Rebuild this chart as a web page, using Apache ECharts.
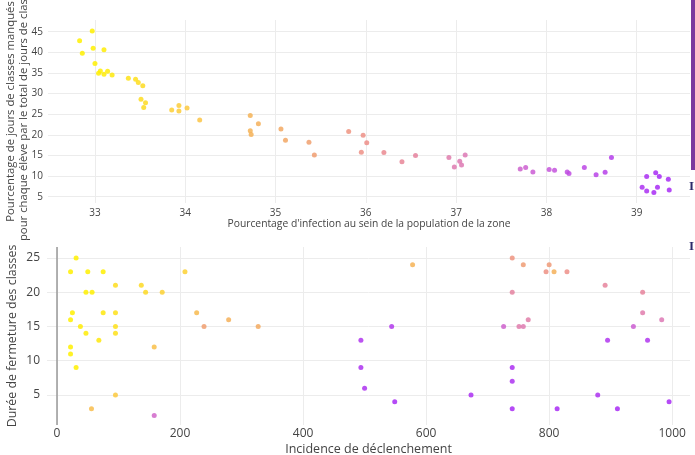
<!DOCTYPE html>
<html>
<head>
<meta charset="utf-8">
<script src="https://cdn.jsdelivr.net/npm/echarts@6/dist/echarts.min.js"></script>
<style>
  html, body { margin: 0; padding: 0; background: #fff; }
  #chart { width: 695px; height: 455px; }
</style>
</head>
<body>
<div id="chart"></div>
<script>
// top: infection % vs missed-days %
const infectionPct = [
  32.83, 32.97, 32.86, 32.98, 33.10, 33.00, 33.06, 33.04, 33.10, 33.14, 33.19,
  33.37, 33.45, 33.48, 33.53, 33.51, 33.56, 33.54, 33.85, 33.93, 33.93, 34.02,
  34.16, 34.72, 34.72, 34.73, 34.81, 35.06, 35.11, 35.37, 35.43, 35.81, 35.97,
  36.01, 35.95, 36.20, 36.40, 36.55, 36.92, 37.04, 37.10, 37.06, 36.98, 37.71,
  37.77, 37.85, 38.03, 38.09, 38.23, 38.25, 38.42, 38.55, 38.65, 38.72, 39.06,
  39.11, 39.11, 39.19, 39.21, 39.25, 39.23, 39.35, 39.36
]
const missedPct = [
  42.8, 45.2, 39.8, 41.0, 40.6, 37.3, 35.5, 34.9, 34.7, 35.4, 34.5,
  33.7, 33.5, 32.7, 31.9, 28.6, 27.8, 26.6, 26.0, 27.1, 25.8, 26.5,
  23.6, 24.7, 21.0, 20.1, 22.7, 21.4, 18.7, 18.2, 15.1, 20.8, 19.9,
  18.1, 15.8, 15.7, 13.5, 15.0, 14.5, 13.6, 15.1, 12.7, 12.2, 11.7,
  12.1, 11.0, 11.6, 11.4, 11.0, 10.6, 12.1, 10.3, 10.9, 14.5, 7.3,
  9.9, 6.4, 6.0, 10.8, 9.9, 7.3, 9.2, 6.6
]

// bottom: trigger incidence vs closure duration (colour = infection %)
const incidence = [
  31, 22, 50, 75, 208, 95, 137, 47, 57, 144, 171,
  25, 75, 95, 227, 22, 279, 38, 95, 239, 327,
  47, 95, 68, 22, 158, 22, 31, 95, 56, 158,
  578, 740, 758, 800, 795, 808, 829, 891, 740, 952,
  952, 766, 983, 544, 726, 751, 758, 937, 494, 895,
  960, 494, 740, 740, 500, 549, 673, 879, 995, 740,
  813, 911
]
const closureDays = [
  25, 23, 23, 23, 23, 21, 21, 20, 20, 20, 20,
  17, 17, 17, 17, 16, 16, 15, 15, 15, 15,
  14, 14, 13, 12, 12, 11, 9, 5, 3, 2,
  24, 25, 24, 24, 23, 23, 23, 21, 20, 20,
  17, 16, 16, 15, 15, 15, 15, 15, 13, 13,
  13, 9, 9, 7, 6, 4, 5, 5, 4, 3,
  3, 3
]
const closureColour = [
  33.0, 33.0, 33.0, 33.0, 33.8, 33.5, 33.6, 33.0, 33.0, 33.6, 33.8,
  33.0, 33.2, 33.4, 34.5, 33.0, 34.8, 33.1, 33.4, 35.4, 35.0,
  33.1, 33.4, 33.2, 33.0, 34.3, 33.0, 33.0, 34.0, 34.4, 37.6,
  34.7, 35.8, 35.5, 35.6, 35.9, 34.8, 36.0, 36.5, 36.6, 36.5,
  36.9, 36.8, 37.1, 38.8, 37.7, 36.9, 37.0, 37.8, 38.9, 38.9,
  38.9, 39.0, 39.1, 39.0, 39.0, 39.2, 39.1, 39.0, 39.2, 39.3,
  39.2, 39.3
]

const yTicksTop = [5, 10, 15, 20, 25, 30, 35, 40, 45]
const xTicksTop = [33, 34, 35, 36, 37, 38, 39]
const yTicksBottom = [5, 10, 15, 20, 25]
const xTicksBottom = [0, 200, 400, 600, 800, 1000]

const txt = '#444'
const font = '"Open Sans", "Noto Sans", sans-serif'
const gridLine = { show: true, lineStyle: { color: '#ececec', width: 1 } }

function valueAxis(opt) {
    return Object.assign({
        type: 'value',
        axisLine: { show: false },
        axisTick: { show: false, customValues: opt.ticks },
        axisLabel: { color: txt, fontFamily: font, fontSize: opt.fs, customValues: opt.ticks, margin: opt.margin,
            formatter: v => String(v) },
        splitLine: gridLine,
        nameLocation: 'middle',
        nameMoveOverlap: false,
        nameTextStyle: { color: txt, fontFamily: font, fontSize: opt.nfs, lineHeight: opt.lh }
    }, opt.extra)
}

let chart = echarts.init(document.getElementById('chart'), null, { renderer: 'canvas' })

chart.setOption({
    backgroundColor: '#fff',
    animation: false,
    grid: [
        { left: 48, right: 5, top: 20, height: 183, outerBoundsMode: 'none', containLabel: false },
        { left: 47, right: 5, top: 247, height: 178, outerBoundsMode: 'none', containLabel: false }
    ],
    xAxis: [
        valueAxis({ ticks: xTicksTop, fs: 10, nfs: 10.3, margin: 5, extra: {
            gridIndex: 0, min: 32.48, max: 39.59,
            name: "Pourcentage d'infection au sein de la population de la zone", nameGap: 16
        } }),
        valueAxis({ ticks: xTicksBottom, fs: 12, nfs: 12.5, margin: 3, extra: {
            gridIndex: 1, min: -16.3, max: 1029,
            name: 'Incidence de déclenchement', nameGap: 18
        } })
    ],
    yAxis: [
        valueAxis({ ticks: yTicksTop, fs: 10, nfs: 11.3, lh: 13, margin: 5, extra: {
            gridIndex: 0, min: 3.47, max: 47.84,
            name: 'Pourcentage de jours de classes manqués\npour chaque élève par le total de jours de classes',
            nameGap: 18
        } }),
        valueAxis({ ticks: yTicksBottom, fs: 12, nfs: 12.4, margin: 7, extra: {
            gridIndex: 1, min: 0.62, max: 26.6,
            name: 'Durée de fermeture des classes', nameGap: 29
        } })
    ],
    visualMap: {
        show: false,
        type: 'continuous',
        seriesIndex: [0, 1],
        dimension: 2,
        min: 33,
        max: 39.2,
        inRange: {
            color: ['#fff000', '#fcc840', '#f2a862', '#ec8c8c', '#dc78b6', '#c250e0', '#a82cf4']
        }
    },
    series: [
        {
            type: 'scatter',
            xAxisIndex: 0, yAxisIndex: 0,
            symbolSize: 5,
            itemStyle: { opacity: 0.85 },
            data: infectionPct.map((x, i) => [x, missedPct[i], x])
        },
        {
            type: 'scatter',
            xAxisIndex: 1, yAxisIndex: 1,
            symbolSize: 5,
            itemStyle: { opacity: 0.85 },
            data: incidence.map((x, i) => [x, closureDays[i], closureColour[i]]),
            markLine: {
                silent: true,
                symbol: 'none',
                label: { show: false },
                lineStyle: { color: '#999', width: 1.5, type: 'solid' },
                data: [{ xAxis: 0 }]
            }
        }
    ],
    graphic: [
        { type: 'rect', shape: { x: 691, y: 0, width: 4, height: 170 }, style: { fill: '#7b3a9e' } },
        { type: 'text', x: 689, y: 180, style: { text: 'I', fill: '#2a2a6a', font: 'bold 13px serif' } },
        { type: 'text', x: 689, y: 240, style: { text: 'I', fill: '#2a2a6a', font: 'bold 13px serif' } }
    ]
})
</script>
</body>
</html>
